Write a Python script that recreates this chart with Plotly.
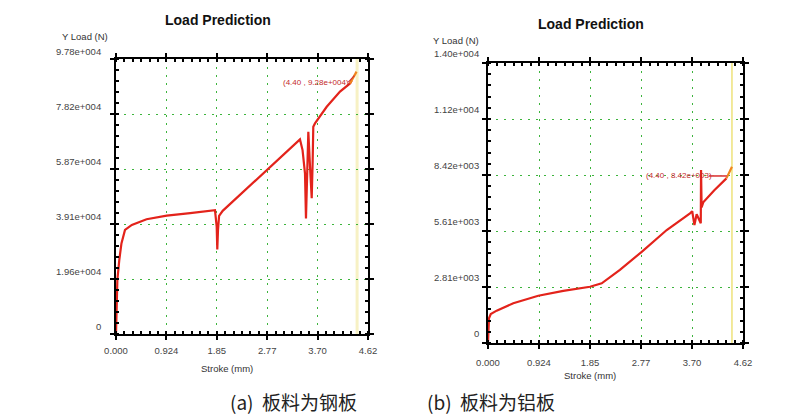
import plotly.graph_objects as go

# ---------------- data ----------------
# (a) steel sheet
steel_x = [0.0, 0.01, 0.025, 0.06, 0.10, 0.165, 0.29, 0.56, 0.93, 1.36, 1.815, 1.846, 1.857, 1.87, 1.89,
           1.956, 2.78, 3.373, 3.42, 3.465, 3.483, 3.507, 3.526, 3.557, 3.588, 3.606, 3.617, 3.648,
           3.863, 4.107, 4.29, 4.32]
steel_y = [0.0, 9.0e3, 1.92e4, 2.63e4, 3.22e4, 3.70e4, 3.88e4, 4.08e4, 4.21e4, 4.30e4, 4.40e4, 3.82e4,
           3.01e4, 3.70e4, 4.20e4, 4.38e4, 5.86e4, 6.92e4, 6.54e4, 5.71e4, 4.11e4, 6.19e4, 7.19e4, 5.95e4,
           4.83e4, 6.19e4, 7.37e4, 7.49e4, 8.08e4, 8.62e4, 8.91e4, 9.01e4]
steel_end_x = [4.29, 4.32, 4.36, 4.41]
steel_end_y = [8.91e4, 9.01e4, 9.15e4, 9.33e4]

# (b) aluminium sheet
alu_x = [0.0, 0.018, 0.05, 0.157, 0.458, 0.911, 1.364, 1.848, 2.06, 2.39, 2.785, 3.238, 3.66, 3.70,
         3.74, 3.78, 3.855, 3.86, 3.87, 3.90, 4.10, 4.32]
alu_y = [0.0, 1.24e3, 1.45e3, 1.62e3, 1.99e3, 2.37e3, 2.61e3, 2.82e3, 2.99e3, 3.66e3, 4.57e3, 5.66e3,
         6.50e3, 6.60e3, 5.91e3, 6.45e3, 6.0e3, 8.67e3, 6.8e3, 7.05e3, 7.65e3, 8.25e3]
alu_end_x = [4.32, 4.36, 4.42]
alu_end_y = [8.25e3, 8.50e3, 8.83e3]

x_ticks = [0.0, 0.924, 1.848, 2.772, 3.696, 4.62]
x_ticktext = ["0.000", "0.924", "1.85", "2.77", "3.70", "4.62"]

steel_yticks = [0, 1.956e4, 3.912e4, 5.868e4, 7.824e4, 9.78e4]
steel_yticktext = ["0", "1.96e+004", "3.91e+004", "5.87e+004", "7.82e+004", "9.78e+004"]
alu_yticks = [0, 2.806e3, 5.612e3, 8.418e3, 1.1224e4, 1.403e4]
alu_yticktext = ["0", "2.81e+003", "5.61e+003", "8.42e+003", "1.12e+004", "1.40e+004"]

steel_peak = (4.40, 9.28e4)
steel_label = "(4.40 , 9.28e+004)"
alu_peak = (4.40, 8.37e3)
alu_label = "(4.40 , 8.42e+003)"
limit_x = 4.42

titles = ["Load Prediction", "Load Prediction"]
y_title = "Y Load (N)"
x_title = "Stroke (mm)"
captions = ["(a)  板料为钢板", "(b)  板料为铝板"]

# ---------------- figure ----------------
W, H = 800, 418
RED = "#e3231b"
ORANGE = "#f0861e"
GRID = "#3cb43c"
TICKFONT = dict(family="Liberation Sans, Arial, sans-serif", size=9.5, color="#444444")

fig = go.Figure()
fig.add_trace(go.Scatter(x=steel_x, y=steel_y, mode="lines", line=dict(color=RED, width=2.2),
                         xaxis="x", yaxis="y", showlegend=False, hoverinfo="skip"))
fig.add_trace(go.Scatter(x=steel_end_x, y=steel_end_y, mode="lines", line=dict(color=ORANGE, width=2.2),
                         xaxis="x", yaxis="y", showlegend=False, hoverinfo="skip"))
fig.add_trace(go.Scatter(x=alu_x, y=alu_y, mode="lines", line=dict(color=RED, width=2.2),
                         xaxis="x2", yaxis="y2", showlegend=False, hoverinfo="skip"))
fig.add_trace(go.Scatter(x=alu_end_x, y=alu_end_y, mode="lines", line=dict(color=ORANGE, width=2.2),
                         xaxis="x2", yaxis="y2", showlegend=False, hoverinfo="skip"))


def px_x(p):
    return p / W


def px_y(p):
    return 1 - p / H


def xaxis_cfg(domain, anchor, standoff):
    return dict(domain=domain, anchor=anchor, range=[x_ticks[0], x_ticks[-1]],
                tickmode="array", tickvals=x_ticks, ticktext=x_ticktext,
                ticks="outside", ticklen=4, tickwidth=1.5, tickcolor="black",
                minor=dict(ticks="inside", ticklen=3, tickcolor="black", dtick=0.924 / 6,
                           tick0=0, showgrid=False),
                mirror="allticks", showline=True, linecolor="black", linewidth=1.8,
                showgrid=True, gridcolor=GRID, griddash="2px,6px", gridwidth=1,
                zeroline=False, tickfont=TICKFONT, ticklabelstandoff=standoff, fixedrange=True)


def yaxis_cfg(domain, anchor, vals, text, standoff, shift):
    return dict(domain=domain, anchor=anchor, range=[vals[0], vals[-1]],
                tickmode="array", tickvals=vals, ticktext=text,
                ticks="outside", ticklen=4, tickwidth=1.5, tickcolor="black",
                minor=dict(ticks="inside", ticklen=3, tickcolor="black", dtick=vals[1] / 5,
                           tick0=0, showgrid=False),
                mirror="allticks", showline=True, linecolor="black", linewidth=1.8,
                showgrid=True, gridcolor=GRID, griddash="2px,6px", gridwidth=1,
                zeroline=False, tickfont=TICKFONT, ticklabelstandoff=standoff,
                ticklabelshift=shift, fixedrange=True)


fig.update_layout(
    width=W, height=H, margin=dict(l=0, r=0, t=0, b=0, autoexpand=False),
    paper_bgcolor="white", plot_bgcolor="white",
    xaxis=xaxis_cfg([px_x(116), px_x(368)], "y", 3),
    yaxis=yaxis_cfg([px_y(334), px_y(59)], "x", steel_yticks, steel_yticktext, 7, -7),
    xaxis2=xaxis_cfg([px_x(488), px_x(743)], "y2", 6),
    yaxis2=yaxis_cfg([px_y(343), px_y(63)], "x2", alu_yticks, alu_yticktext, 1, -9),
)

# limit lines (yellow)
fig.add_shape(type="line", xref="x", yref="y", x0=limit_x, x1=limit_x, y0=steel_yticks[0],
              y1=steel_yticks[-1], line=dict(color="#f7f1c4", width=3), layer="below")
fig.add_shape(type="line", xref="x2", yref="y2", x0=limit_x, x1=limit_x, y0=alu_yticks[0],
              y1=alu_yticks[-1], line=dict(color="#eee27a", width=1.5), layer="below")

# peak annotations with leader lines
steel_text_y = steel_peak[1] * 0.965
fig.add_shape(type="line", xref="x", yref="y", x0=steel_peak[0] - 0.14, x1=steel_peak[0] - 0.03,
              y0=steel_text_y, y1=steel_peak[1] * 0.99, line=dict(color="#d03030", width=1.2))
fig.add_annotation(xref="x", yref="y", x=steel_peak[0] - 0.10, y=steel_text_y,
                   text=steel_label, showarrow=False, xanchor="right", yanchor="middle",
                   font=dict(family="Liberation Sans, Arial, sans-serif", size=8, color="#c42a2a"))
fig.add_shape(type="line", xref="x2", yref="y2", x0=alu_peak[0] - 0.40, x1=alu_peak[0] - 0.07,
              y0=alu_peak[1], y1=alu_peak[1], line=dict(color="#e05050", width=1.8))
fig.add_annotation(xref="x2", yref="y2", x=alu_peak[0] - 0.30, y=alu_peak[1],
                   text=alu_label, showarrow=False, xanchor="right", yanchor="middle",
                   font=dict(family="Liberation Sans, Arial, sans-serif", size=8, color="#c42a2a"))

# titles and axis labels
TITLEFONT = dict(family="Liberation Sans, Arial, sans-serif", size=14, color="#111111")
LABFONT = dict(family="Liberation Sans, Arial, sans-serif", size=9.5, color="#333333")
for text, x, y in [(titles[0], 218, 20), (titles[1], 591, 24)]:
    fig.add_annotation(xref="paper", yref="paper", x=px_x(x), y=px_y(y), text="<b>" + text + "</b>",
                       showarrow=False, xanchor="center", yanchor="middle", font=TITLEFONT)
for x, y in [(60, 36), (431, 40)]:
    fig.add_annotation(xref="paper", yref="paper", x=px_x(x), y=px_y(y), text=y_title,
                       showarrow=False, xanchor="left", yanchor="middle", font=LABFONT)
for x, y in [(227, 368), (590, 375)]:
    fig.add_annotation(xref="paper", yref="paper", x=px_x(x), y=px_y(y), text=x_title,
                       showarrow=False, xanchor="center", yanchor="middle", font=LABFONT)

CAPFONT = dict(family="Noto Sans CJK SC, sans-serif", size=19, color="#222222")
for text, x in [(captions[0], 228), (captions[1], 425)]:
    fig.add_annotation(xref="paper", yref="paper", x=px_x(x), y=px_y(401), text=text,
                       showarrow=False, xanchor="left", yanchor="middle", font=CAPFONT)

page_css = ("document.body.style.margin='0';document.body.style.padding='0';"
            "document.body.style.overflow='hidden';"
            "document.documentElement.style.overflow='hidden';")
fig.write_html("out.html", config={"displayModeBar": False}, post_script=page_css)
